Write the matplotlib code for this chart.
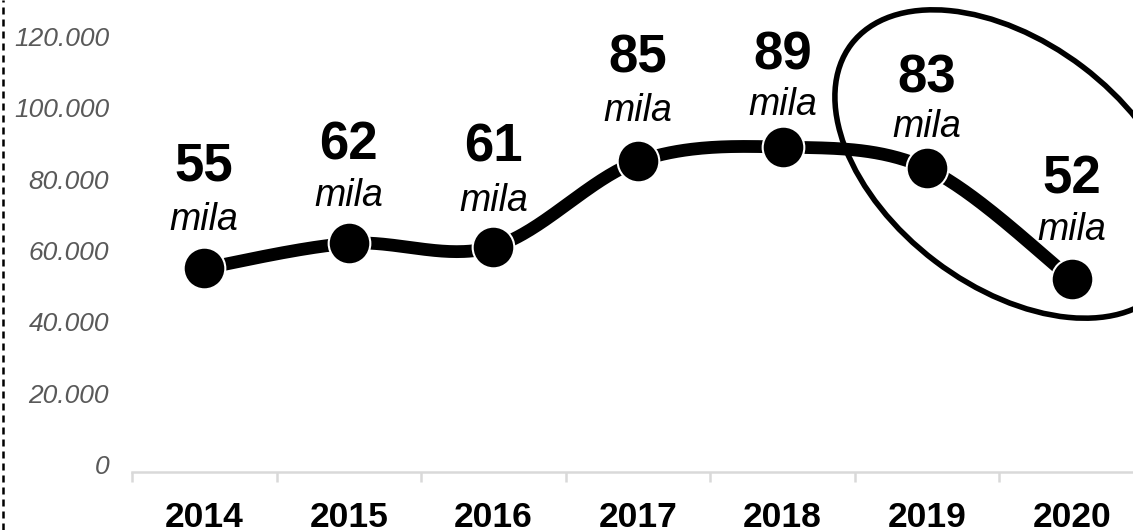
import numpy as np
import matplotlib
matplotlib.use('Agg')
import matplotlib.pyplot as plt
from matplotlib.patches import Ellipse
from matplotlib.lines import Line2D

years = ['2014', '2015', '2016', '2017', '2018', '2019', '2020']
values = [55000, 62000, 61000, 85000, 89000, 83000, 52000]
value_labels = ['55', '62', '61', '85', '89', '83', '52']
unit_label = 'mila'
yticks = [0, 20000, 40000, 60000, 80000, 100000, 120000]
ytick_labels = ['0', '20.000', '40.000', '60.000', '80.000', '100.000', '120.000']

# layout: label baseline offsets above each point (pixels)
num_off_px = [88, 84, 85, 89, 78, 76, 86]
unit_off_px = [38, 37, 36, 40, 32, 31, 39]

plt.rcParams['font.family'] = ['Liberation Sans', 'DejaVu Sans']

W, H = 1133, 530
PX = 0.72  # points per pixel at dpi 100
fig = plt.figure(figsize=(W / 100, H / 100), dpi=100)
ax = fig.add_axes([132 / W, 65.5 / H, 1012 / W, 428 / H])
ax.set_xlim(-0.5, len(years) - 0.5)
ax.set_ylim(0, 120000)

# Smoothed line (Bezier smoothing like spreadsheet charts)
x = np.arange(len(values), dtype=float)
y = np.array(values, dtype=float)
P = np.column_stack([x, y])
Pext = np.vstack([P[0], P, P[-1]])
t = np.linspace(0, 1, 60)[:, None]
curve = []
for i in range(len(P) - 1):
    p0, p1, p2, p3 = Pext[i], Pext[i + 1], Pext[i + 2], Pext[i + 3]
    b1 = p1 + (p2 - p0) / 6
    b2 = p2 - (p3 - p1) / 6
    seg = ((1 - t) ** 3) * p1 + 3 * ((1 - t) ** 2) * t * b1 + 3 * (1 - t) * t ** 2 * b2 + t ** 3 * p2
    curve.append(seg)
curve = np.vstack(curve)
ax.plot(curve[:, 0], curve[:, 1], color='black', lw=9.2, solid_capstyle='round', zorder=2, clip_on=False)
ax.plot(x, y, 'o', ms=30, mfc='black', mec='white', mew=1.5, zorder=3, clip_on=False)

for xi, yi, lab, no, uo in zip(x, y, value_labels, num_off_px, unit_off_px):
    ax.annotate(lab, (xi, yi), xytext=(0, no * PX), textcoords='offset points', ha='center', va='baseline',
                fontsize=38, fontweight='bold', color='black', annotation_clip=False)
    ax.annotate(unit_label, (xi, yi), xytext=(0, uo * PX), textcoords='offset points', ha='center',
                va='baseline', fontsize=27, fontstyle='italic', color='black', annotation_clip=False)

for s in ['top', 'right', 'left']:
    ax.spines[s].set_visible(False)
ax.spines['bottom'].set_color('#d9d9d9')
ax.spines['bottom'].set_linewidth(1.8)
ax.spines['bottom'].set_position(('outward', 7.2 * PX))

ax.set_xticks(x)
ax.set_xticklabels(years, fontsize=25.5, fontweight='bold', color='black')
ax.set_xticks(np.arange(-0.5, len(years)), minor=True)
ax.tick_params(axis='x', which='major', length=0, pad=21)
ax.tick_params(axis='x', which='minor', length=7.5, width=1.8, color='#d9d9d9')

ax.set_yticks(yticks)
ax.set_yticklabels(ytick_labels, fontsize=19, fontstyle='italic', color='#595959')
ax.tick_params(axis='y', length=0, pad=16.5)

# Overlay for the highlight ellipse (pixel space)
ov = fig.add_axes([0, 0, 1, 1], zorder=5)
ov.set_xlim(0, W)
ov.set_ylim(H, 0)
ov.axis('off')
ov.patch.set_visible(False)
ov.add_patch(Ellipse((1009, 164), 396, 244, angle=37.2, fill=False, lw=4, ec='black', clip_on=False))

# Left dashed border
fig.add_artist(Line2D([2.5 / W, 2.5 / W], [0, 1], transform=fig.transFigure, color='black', lw=1.8,
                      linestyle=(0, (2.8, 2.0))))

fig.savefig('out.png', dpi=100)
